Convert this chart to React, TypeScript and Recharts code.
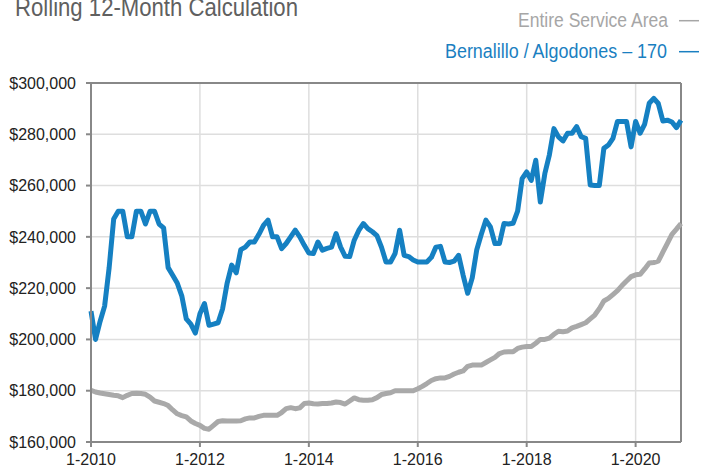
import React from "react";
import { LineChart, Line, XAxis, YAxis, CartesianGrid, ReferenceLine } from "recharts";

// monthly, 1-2010 .. 11-2020, values in $ thousands
const bernalillo = [
  211, 200, 207, 213, 228, 247, 250, 250, 240, 240, 250, 250,
  245, 250, 250, 245, 243.5, 228, 225, 222, 217, 208, 206, 202.5,
  210, 214, 205.5, 206, 206.5, 212, 222, 229, 226, 235, 236, 238,
  238, 241, 244.5, 246.5, 240, 240, 235.4, 237.4, 240, 242.6, 240, 236.7,
  233.7, 233.5, 238, 234.8, 235.5, 236, 241.3, 236, 232.4, 232.3, 238.7, 242.5,
  245.2, 243.2, 242, 240.5, 236, 230.2, 230.2, 233.5, 242.6, 232.8, 232.3, 231,
  230.2, 230.2, 230.2, 232, 236, 236.3, 230.2, 230, 230.5, 232.8, 225, 218,
  224, 235, 241, 246.5, 243.9, 237.4, 237.4, 245.2, 245, 245.3, 250, 262.7,
  265.3, 262, 269.9, 253.6, 264.7, 272, 282.2, 279, 277.4, 280.4, 280.4, 283,
  279.1, 278.4, 260.2, 260, 260, 274.5, 275.8, 278.4, 285, 285, 285, 275.1,
  285, 280.4, 284, 292.1, 294, 292, 285.2, 285.5, 284.8, 282.6, 285.5,
];

const serviceArea = [
  180.2, 179.5, 179.1, 178.8, 178.5, 178.2, 178, 177.3, 178.2, 178.9, 179, 178.9,
  178.6, 177.5, 176, 175.5, 175, 174.2, 172.5, 171, 170.3, 169.8, 168.2, 167.2,
  166.5, 165.3, 165, 166.5, 168, 168.3, 168.2, 168.2, 168.2, 168.3, 169, 169.4,
  169.4, 170, 170.4, 170.4, 170.4, 170.4, 171.5, 173, 173.4, 173, 173.3, 175,
  175.2, 174.9, 174.8, 175, 175, 175.2, 175.6, 175.4, 174.8, 176, 177.2, 176.5,
  176.3, 176.3, 176.5, 177.3, 178.5, 178.9, 179.2, 180, 180, 180, 180, 180,
  180.8, 181.7, 182.8, 184, 184.7, 185, 185, 185.6, 186.5, 187.2, 187.7, 189.5,
  190, 190, 190, 191, 192, 193, 194.5, 195.1, 195.2, 195.2, 196.5, 197,
  197.2, 197.2, 198.5, 200, 200, 200.5, 202, 203.2, 203, 203.3, 204.5, 205.1,
  205.8, 206.5, 208, 209.5, 212, 215, 216, 217.5, 219, 221, 222.8, 224.5,
  225.2, 225.4, 227.5, 229.8, 230, 230.5, 234, 237.5, 241, 243, 245.2,
];

const xTicks = [0, 24, 48, 72, 96, 120];
const xTickLabels = ["1-2010", "1-2012", "1-2014", "1-2016", "1-2018", "1-2020"];
const yTicks = [160, 180, 200, 220, 240, 260, 280, 300];

const data = bernalillo.map((v, i) => ({ m: i, blue: v, gray: serviceArea[i] }));

const BLUE = "#1580c2";
const GRAY = "#a9a9a9";
const AXIS = "#888888";
const FONT = "Liberation Sans, Arial, sans-serif";

export default function App() {
  return (
    <div style={{ position: "absolute", left: 0, top: 0, width: 701, height: 468, background: "#fff" }}>
      <LineChart
        width={701}
        height={468}
        data={data}
        margin={{ top: 83, right: 20, left: 0, bottom: 0 }}
      >
        <CartesianGrid stroke="#dedede" strokeWidth={1.5} />
        <XAxis
          dataKey="m"
          type="number"
          domain={[0, 130]}
          ticks={xTicks}
          tickFormatter={(v) => xTickLabels[xTicks.indexOf(v)]}
          height={26}
          stroke={AXIS}
          strokeWidth={2}
          tickSize={5}
          tickMargin={7}
          tick={{ fill: "#222", fontSize: 16, fontFamily: FONT }}
        />
        <YAxis
          domain={[160, 300]}
          ticks={yTicks}
          tickFormatter={(v) => `$${v},000`}
          width={91}
          stroke={AXIS}
          strokeWidth={2}
          tickSize={5}
          tickMargin={10}
          tick={{ fill: "#222", fontSize: 16, fontFamily: FONT }}
        />
        <ReferenceLine y={300} stroke={AXIS} strokeWidth={2} />
        <ReferenceLine x={130} stroke={AXIS} strokeWidth={2} />
        <Line
          dataKey="gray"
          stroke={GRAY}
          strokeWidth={5}
          dot={false}
          type="linear"
          strokeLinejoin="round"
          isAnimationActive={false}
        />
        <Line
          dataKey="blue"
          stroke={BLUE}
          strokeWidth={5}
          dot={false}
          type="linear"
          strokeLinejoin="round"
          isAnimationActive={false}
        />
      </LineChart>
      <svg
        width={701}
        height={468}
        style={{ position: "absolute", left: 0, top: 0, pointerEvents: "none" }}
        fontFamily={FONT}
      >
        <text x={15} y={15.5} fontSize={25} fill="#606060" textLength={283} lengthAdjust="spacingAndGlyphs">
          Rolling 12-Month Calculation
        </text>
        <text x={518} y={27} fontSize={20} fill="#a6a6a6" textLength={150} lengthAdjust="spacingAndGlyphs">
          Entire Service Area
        </text>
        <line x1={679} x2={699} y1={20.7} y2={20.7} stroke="#a6a6a6" strokeWidth={1.5} />
        <text x={445} y={58.3} fontSize={20} fill="#1a7fc1" textLength={222} lengthAdjust="spacingAndGlyphs">
          Bernalillo / Algodones – 170
        </text>
        <line x1={679} x2={699} y1={51.7} y2={51.7} stroke="#1a7fc1" strokeWidth={1.5} />
      </svg>
    </div>
  );
}
